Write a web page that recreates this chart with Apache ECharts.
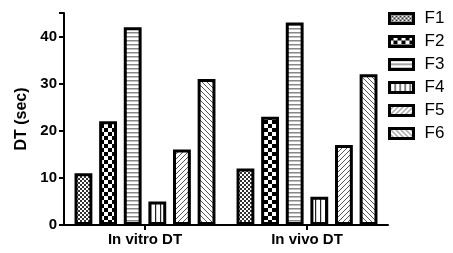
<!DOCTYPE html>
<html>
<head>
<meta charset="utf-8">
<script src="https://cdn.jsdelivr.net/npm/echarts@6/dist/echarts.min.js"></script>
<style>
  html, body { margin: 0; padding: 0; background: #fff; }
  #chart { width: 453px; height: 253px; }
</style>
</head>
<body>
<div id="chart"></div>
<script>
var categories = ['In vitro DT', 'In vivo DT'];
var seriesNames = ['F1', 'F2', 'F3', 'F4', 'F5', 'F6'];
var f1 = [11, 12];
var f2 = [22, 23];
var f3 = [42, 43];
var f4 = [5, 6];
var f5 = [16, 17];
var f6 = [31, 32];
var yTicks = [0, 10, 20, 30, 40];

// build the fill patterns
function makePattern(kind) {
  var c = document.createElement('canvas');
  var ctx = c.getContext('2d');
  var s;
  if (kind === 'fineCheck') {
    s = 4; c.width = s; c.height = s;
    ctx.fillStyle = '#fff'; ctx.fillRect(0, 0, s, s);
    ctx.fillStyle = '#333';
    ctx.fillRect(0, 0, 2, 2); ctx.fillRect(2, 2, 2, 2);
  } else if (kind === 'bigCheck') {
    s = 8; c.width = s; c.height = s;
    ctx.fillStyle = '#fff'; ctx.fillRect(0, 0, s, s);
    ctx.fillStyle = '#000';
    ctx.fillRect(0, 0, 4, 4); ctx.fillRect(4, 4, 4, 4);
  } else if (kind === 'hLines') {
    s = 4; c.width = s; c.height = s;
    ctx.fillStyle = '#fff'; ctx.fillRect(0, 0, s, s);
    ctx.fillStyle = '#888';
    ctx.fillRect(0, 0, s, 1.5);
  } else if (kind === 'vLines') {
    s = 5; c.width = s; c.height = s;
    ctx.fillStyle = '#fff'; ctx.fillRect(0, 0, s, s);
    ctx.fillStyle = '#222';
    ctx.fillRect(0, 0, 1.2, s);
  } else if (kind === 'diagUp' || kind === 'diagDown') {
    s = 5; c.width = s; c.height = s;
    ctx.fillStyle = '#fff'; ctx.fillRect(0, 0, s, s);
    ctx.strokeStyle = '#555'; ctx.lineWidth = 1;
    ctx.beginPath();
    if (kind === 'diagUp') {
      ctx.moveTo(-1, s + 1); ctx.lineTo(s + 1, -1);
      ctx.moveTo(-1, 1); ctx.lineTo(1, -1);
      ctx.moveTo(s - 1, s + 1); ctx.lineTo(s + 1, s - 1);
    } else {
      ctx.moveTo(-1, -1); ctx.lineTo(s + 1, s + 1);
      ctx.moveTo(s - 1, -1); ctx.lineTo(s + 1, 1);
      ctx.moveTo(-1, s - 1); ctx.lineTo(1, s + 1);
    }
    ctx.stroke();
  }
  return { image: c, repeat: 'repeat' };
}

var patterns = [
  makePattern('fineCheck'),
  makePattern('bigCheck'),
  makePattern('hLines'),
  makePattern('vLines'),
  makePattern('diagUp'),
  makePattern('diagDown')
];
var allData = [f1, f2, f3, f4, f5, f6];

var myChart = echarts.init(document.getElementById('chart'));

var series = seriesNames.map(function (name, i) {
  return {
    name: name,
    type: 'bar',
    data: allData[i],
    barGap: '38%',
    barCategoryGap: '13%',
    itemStyle: {
      color: patterns[i],
      borderColor: '#000',
      borderWidth: 3
    }
  };
});

var option = {
  animation: false,
  grid: { left: 64, right: 65, top: 13, bottom: 28 },
  legend: {
    orient: 'vertical',
    left: 383,
    top: 5,
    itemWidth: 24,
    itemHeight: 10,
    itemGap: 6,
    icon: 'rect',
    data: seriesNames,
    itemStyle: { borderColor: '#000', borderWidth: 3 },
    textStyle: { fontFamily: 'Liberation Sans', fontSize: 17, color: '#000', padding: [0, 0, 0, 6] }
  },
  xAxis: {
    type: 'category',
    data: categories,
    axisLine: { lineStyle: { color: '#000', width: 2 } },
    axisTick: { show: true, alignWithLabel: true, length: 5, lineStyle: { color: '#000', width: 2 } },
    axisLabel: { fontFamily: 'Liberation Sans', fontWeight: 'bold', fontSize: 15, color: '#000', margin: 7 }
  },
  yAxis: {
    type: 'value',
    min: 0,
    max: 45,
    interval: 10,
    name: 'DT (sec)',
    nameLocation: 'middle',
    nameGap: 33,
    nameTextStyle: { fontFamily: 'Liberation Sans', fontWeight: 'bold', fontSize: 16, color: '#000' },
    axisLine: { show: true, lineStyle: { color: '#000', width: 2 } },
    axisTick: { show: true, length: 5, lineStyle: { color: '#000', width: 2 } },
    axisLabel: {
      fontFamily: 'Liberation Sans', fontWeight: 'bold', fontSize: 15, color: '#000', margin: 7,
      formatter: function (v) { return yTicks.indexOf(v) >= 0 ? v : ''; }
    },
    splitLine: { show: false }
  },
  series: series
};

myChart.setOption(option);
</script>
</body>
</html>
